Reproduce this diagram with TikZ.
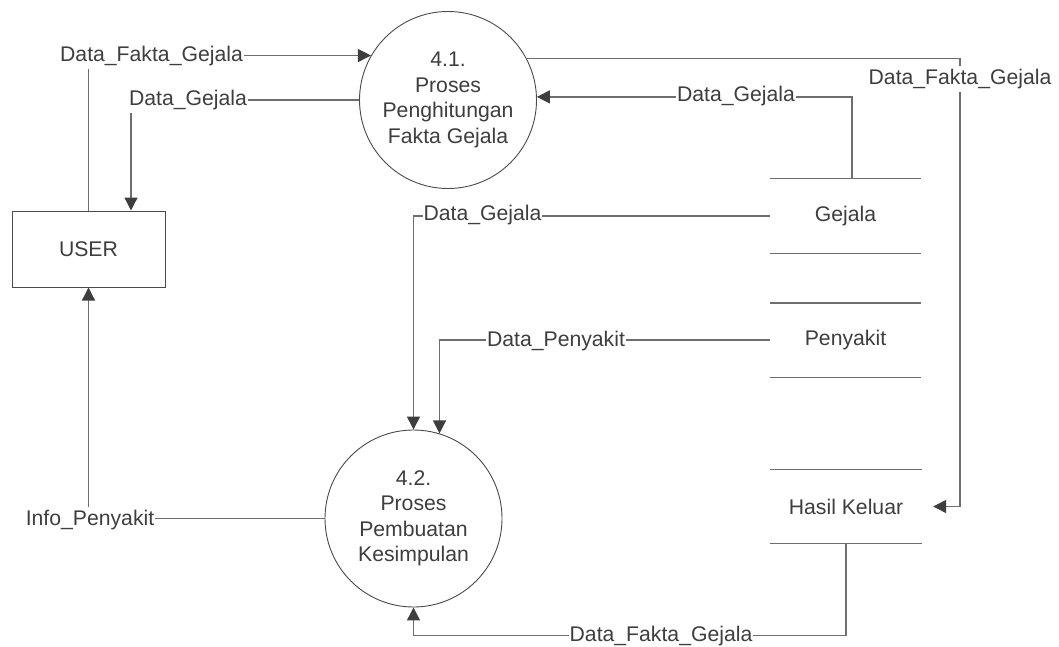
\documentclass[tikz,border=0pt]{standalone}
\usepackage{fontspec}
\setmainfont{Liberation Sans}
\usetikzlibrary{arrows.meta,calc}
\definecolor{ink}{HTML}{3E3E3E}
\definecolor{wire}{HTML}{6E6E6E}
\definecolor{edge}{HTML}{4A4A4A}
\begin{document}
\begin{tikzpicture}[x=1pt,y=-1pt,
  txt/.style={text=ink,font=\fontsize{21.2}{25.5}\selectfont},
  proc/.style={txt,circle,draw=edge,line width=0.9pt,minimum size=177pt,inner sep=0pt,align=center},
  ent/.style={txt,rectangle,draw=edge,line width=1pt,minimum width=153pt,minimum height=76pt},
  store/.style={txt,rectangle,minimum width=151pt,minimum height=74pt,inner sep=0pt},
  rule/.style={draw=wire,line width=1.4pt},
  flow/.style={draw=wire,line width=1.3pt,-{Triangle[length=13pt,width=13pt,color=ink]}},
  lbl/.style={txt,fill=white,inner xsep=1pt,inner ysep=0pt,text height=15pt,text depth=4.5pt,minimum height=26pt}]
\useasboundingbox[fill=white] (0,0) rectangle (1059,647);

% processes, external entity and data stores
\node[proc] (p41) at (448,100) {4.1.\\Proses\\Penghitungan\\Fakta Gejala};
\node[proc] (p42) at (413.5,518.5) {4.2.\\Proses\\Pembuatan\\Kesimpulan};
\node[ent] (user) at (88.5,249) {USER};
\node[store] (gejala) at (845.5,216) {Gejala};
\node[store] (penyakit) at (845.5,340) {Penyakit};
\node[store] (hasil) at (846,506.5) {Hasil Keluar};
\foreach \s in {gejala,penyakit,hasil}{
  \draw[rule] (\s.north west) -- (\s.north east);
  \draw[rule] (\s.south west) -- (\s.south east);
}

% data flows
\draw[flow] (user.north) -- (user.north |- p41.150) -- (p41.150);
\draw[flow] (p41.west) -| ($(user.north)+(42.5,0)$);
\draw[flow] ($(gejala.north)+(6.5,0)$) |- (p41.2.6);
\coordinate (railR) at (960,506.5);
\draw[flow,shorten >=11.5pt] (p41.28) -| (railR) -- (hasil.east);
\draw[flow] (gejala.west) -| (p42.north);
\draw[flow] (penyakit.west) -| (p42.73.3);
\draw[flow] (p42.west) -| (user.south);
\draw[flow] (hasil.south) -- ++(0,92) -| (p42.south);

% flow labels
\node[lbl] (f1) at (151.5,56) {Data\_Fakta\_Gejala};
\node[lbl] (f2) at (188,100) {Data\_Gejala};
\node[lbl] (f3) at (736,96) {Data\_Gejala};
\node[lbl] (f4) at (960,79.5) {Data\_Fakta\_Gejala};
\node[lbl] (f5) at (482.5,215) {Data\_Gejala};
\node[lbl] (f6) at (556,341) {Data\_Penyakit};
\node[lbl] (f7) at (90,520) {Info\_Penyakit};
\node[lbl] (f8) at (661,636) {Data\_Fakta\_Gejala};
\end{tikzpicture}
\end{document}
